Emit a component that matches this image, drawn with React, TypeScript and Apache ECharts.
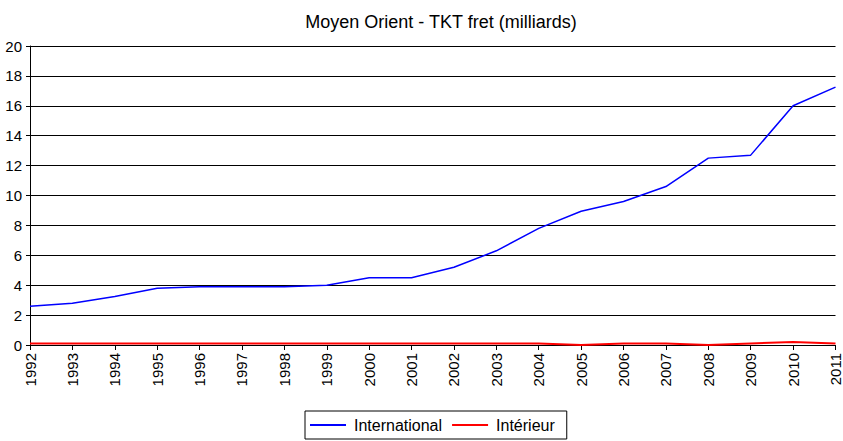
import React, { useEffect, useRef } from "react";
import * as echarts from "echarts";

const years = ["1992","1993","1994","1995","1996","1997","1998","1999","2000","2001","2002","2003","2004","2005","2006","2007","2008","2009","2010","2011"];
const international = [2.6, 2.8, 3.25, 3.8, 3.9, 3.9, 3.9, 4.0, 4.5, 4.5, 5.2, 6.3, 7.8, 8.95, 9.6, 10.6, 12.5, 12.7, 16.0, 17.25];
const interieur = [0.1, 0.1, 0.1, 0.1, 0.1, 0.1, 0.1, 0.1, 0.1, 0.1, 0.1, 0.1, 0.1, 0.0, 0.1, 0.1, 0.0, 0.1, 0.2, 0.1];
const title = "Moyen Orient - TKT fret (milliards)";

export default function App() {
  const ref = useRef<HTMLDivElement>(null);
  useEffect(() => {
    const chart = echarts.init(ref.current!, undefined, { renderer: "svg" });
    const font = "Liberation Sans, Arial, sans-serif";
    chart.setOption({
      animation: false,
      backgroundColor: "#fff",
      textStyle: { fontFamily: font },
      title: {
        text: title,
        left: 436,
        textAlign: "center",
        top: 8,
        textStyle: { fontSize: 18, fontWeight: "normal", color: "#000", fontFamily: font },
      },
      grid: { left: 30, right: 5, top: 46, bottom: 96, containLabel: false },
      legend: {
        left: 305,
        top: 411,
        padding: [6, 12, 6, 5],
        borderColor: "#000",
        borderWidth: 1,
        itemGap: 10,
        itemWidth: 36,
        itemHeight: 2,
        icon: "rect",
        textStyle: { fontSize: 16, color: "#000", fontFamily: font, padding: [0, 0, 0, 3] },
        data: ["International", "Intérieur"],
      },
      xAxis: {
        type: "category",
        data: years,
        boundaryGap: false,
        axisLine: { lineStyle: { color: "#000", width: 1 } },
        axisTick: { show: true, length: 5, lineStyle: { color: "#000" }, alignWithLabel: true },
        axisLabel: { rotate: 90, color: "#000", fontSize: 15, margin: 8, fontFamily: font, interval: 0 },
        splitLine: { show: false },
      },
      yAxis: {
        type: "value",
        min: 0,
        max: 20,
        interval: 2,
        axisLine: { show: true, lineStyle: { color: "#000", width: 1 } },
        axisTick: { show: true, length: 4, lineStyle: { color: "#000" } },
        axisLabel: { color: "#000", fontSize: 15, margin: 8, fontFamily: font },
        splitLine: { show: true, lineStyle: { color: "#000", width: 1 } },
      },
      series: [
        {
          name: "International",
          type: "line",
          data: international,
          symbol: "none",
          lineStyle: { color: "#0000ff", width: 1.5 },
          itemStyle: { color: "#0000ff" },
        },
        {
          name: "Intérieur",
          type: "line",
          data: interieur,
          symbol: "none",
          lineStyle: { color: "#ff0000", width: 2 },
          itemStyle: { color: "#ff0000" },
        },
      ],
    });
    return () => chart.dispose();
  }, []);
  return (
    <div
      ref={ref}
      style={{ position: "fixed", left: 0, top: 0, width: 843, height: 441 }}
    />
  );
}
